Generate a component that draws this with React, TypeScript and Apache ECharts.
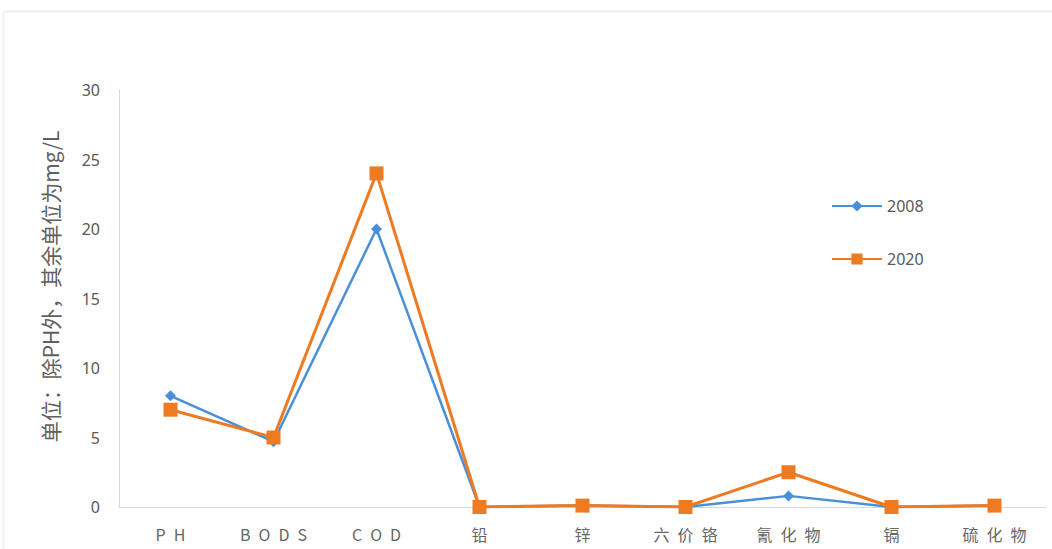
import React, { useEffect, useRef } from "react";
import * as echarts from "echarts";

const categories = ["PH", "BODS", "COD", "铅", "锌", "六价铬", "氰化物", "镉", "硫化物"];
const series2008 = [8, 4.7, 20, 0, 0.1, 0, 0.8, 0, 0.1];
const series2020 = [7, 5, 24, 0, 0.1, 0, 2.5, 0, 0.1];
const yTicks = [0, 5, 10, 15, 20, 25, 30];
const yTitle = "单位：除PH外，其余单位为mg/L";

export default function App() {
  const ref = useRef<HTMLDivElement>(null);
  useEffect(() => {
    document.body.style.margin = "0";
    const chart = echarts.init(ref.current!, null, { renderer: "svg" });
    chart.setOption({
      animation: false,
      backgroundColor: "#ffffff",
      graphic: [
        { type: "line", shape: { x1: 3, y1: 11.5, x2: 1052, y2: 11.5 }, style: { stroke: "#eeeeee", lineWidth: 2 } },
        { type: "line", shape: { x1: 3.5, y1: 11, x2: 3.5, y2: 549 }, style: { stroke: "#f2f2f2", lineWidth: 2 } },
      ],
      grid: { left: 119, right: 6, top: 90, bottom: 42, containLabel: false },
      legend: {
        orient: "vertical",
        left: 826,
        top: 193,
        itemGap: 37,
        itemWidth: 50,
        itemHeight: 14,
        textStyle: { color: "#595959", fontSize: 16, fontFamily: "Noto Sans" },
        data: ["2008", "2020"],
      },
      xAxis: {
        type: "category",
        data: categories,
        boundaryGap: true,
        axisLine: { show: true, lineStyle: { color: "#d9d9d9", width: 1 } },
        axisTick: { show: false },
        axisLabel: {
          interval: 0,
          color: "#666666",
          fontSize: 16,
          fontFamily: "Noto Sans CJK SC",
          margin: 19,
          formatter: (v: string) => v.split("").join("\u2002"),
        },
      },
      yAxis: {
        type: "value",
        min: 0,
        max: 30,
        interval: 5,
        name: yTitle,
        nameLocation: "middle",
        nameGap: 59,
        nameRotate: 90,
        nameTextStyle: { color: "#606060", fontSize: 21, fontFamily: "Noto Sans CJK SC", padding: [0, 0, 0, 24] },
        axisLine: { show: true, lineStyle: { color: "#d9d9d9" } },
        axisTick: { show: false },
        splitLine: { show: false },
        axisLabel: {
          color: "#595959",
          fontSize: 16,
          fontFamily: "Noto Sans",
          margin: 19,
          formatter: (v: number) => (yTicks.includes(v) ? String(v) : ""),
        },
      },
      series: [
        {
          name: "2008",
          type: "line",
          data: series2008,
          symbol: "diamond",
          symbolSize: 11,
          itemStyle: { color: "#4a90d9" },
          lineStyle: { color: "#4a90d9", width: 2.5 },
          z: 2,
        },
        {
          name: "2020",
          type: "line",
          data: series2020,
          symbol: "rect",
          symbolSize: 14,
          itemStyle: { color: "#ee7a22" },
          lineStyle: { color: "#ee7a22", width: 3 },
          z: 3,
        },
      ],
    });
    return () => chart.dispose();
  }, []);
  return <div ref={ref} style={{ width: 1052, height: 549 }} />;
}
